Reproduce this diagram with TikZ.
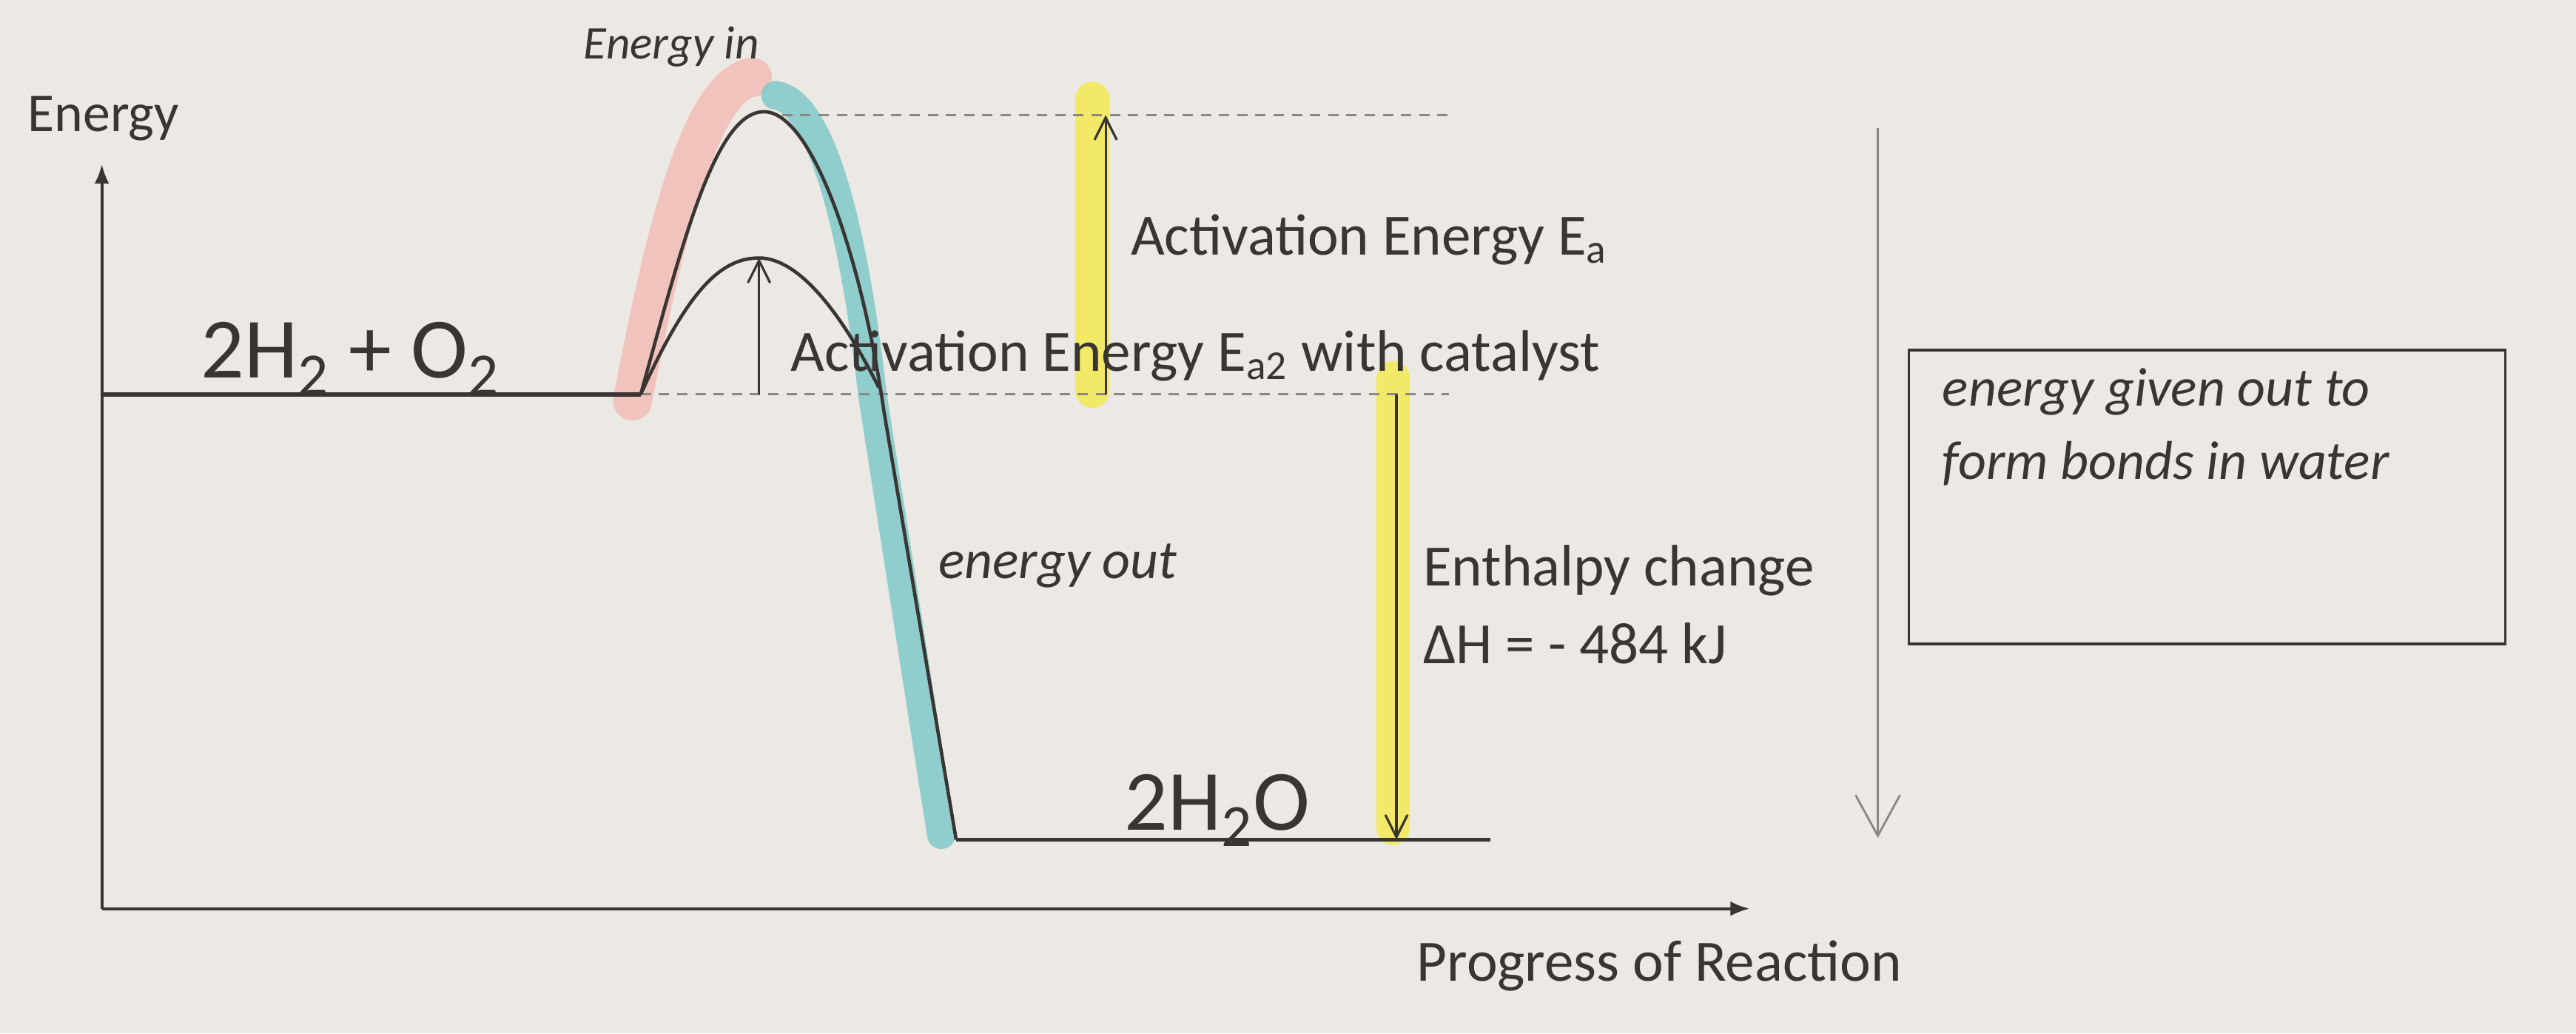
\documentclass[tikz,border=0pt]{standalone}
\usepackage{fontspec}
\setmainfont{Carlito}
\usepackage{xcolor}
\usepackage{tikz}
\usetikzlibrary{arrows.meta,positioning,calc}
\definecolor{PaperBg}{HTML}{ECE9E4}
\definecolor{InkDark}{HTML}{383533}
\definecolor{InkGray}{HTML}{8A8784}
\definecolor{HiYellow}{HTML}{F3EA52}
\definecolor{HiPink}{HTML}{F1BDB5}
\definecolor{HiTeal}{HTML}{80C9C9}
\tikzset{
  axisline/.style={-{Latex[length=2.6mm,width=2mm]},line width=1.1pt,draw=InkDark},
  levelline/.style={line width=1.6pt,draw=InkDark},
  guideline/.style={dash pattern=on 4pt off 3pt,line width=0.8pt,draw=InkGray},
  curveline/.style={line width=1.3pt,draw=InkDark},
  gaparrow/.style={-{Straight Barb[length=3mm,width=3mm]},line width=0.9pt,draw=InkDark},
  sidearrow/.style={-{Straight Barb[length=5.5mm,width=6mm]},line width=0.8pt,draw=InkGray},
  marker/.style={line width=#1,line cap=round,opacity=0.85},
  printlabel/.style={font=\fontsize{22.5}{27}\selectfont,text=InkDark,inner sep=0pt},
  specieslabel/.style={font=\fontsize{33}{38}\selectfont,text=InkDark,inner sep=0pt},
  handlabel/.style={font=\itshape\fontsize{18}{24}\selectfont,text=InkDark,inner sep=0pt,align=left},
  notebox/.style={draw=InkDark,line width=1pt,minimum width=8.06cm,minimum height=3.97cm,inner sep=0pt}
}
\begin{document}
\begin{tikzpicture}[x=0.0222cm,y=-0.0222cm]
\fill[PaperBg] (0,0) rectangle (1568,629);
\useasboundingbox (0,0) rectangle (1568,629);

\coordinate (origin) at (62,553);
\coordinate (ytop) at (62,100);
\coordinate (xend) at (1065,553);
\coordinate (rleft) at (62,240);
\coordinate (rstart) at (390,240);
\coordinate (peak) at (465,68);
\coordinate (catpeak) at (462,157);
\coordinate (catjoin) at (535,236);
\coordinate (steep) at (538,250);
\coordinate (pstart) at (582,511);
\coordinate (pend) at (907,511);
\coordinate (guidestart) at (476,70);
\coordinate (guideend) at (882,240);
\coordinate (topguideend) at (882,70);
\coordinate (eabase) at (673,240);
\coordinate (eatop) at (673,70);
\coordinate (catbase) at (462,240);
\coordinate (dhtop) at (850,240);
\coordinate (dhbot) at (850,511);
\coordinate (bigtop) at (1143,78);
\coordinate (bigbot) at (1143,510);

\draw[marker=15pt,HiPink] (385,244) .. controls (403,150) and (425,52) .. (458,47);
\draw[marker=11pt,HiTeal] (472,58) .. controls (502,62) and (521,150) .. (531,240) -- (573,508);
\draw[marker=13pt,HiYellow] (665,60) -- (665,238);
\draw[marker=13pt,HiYellow] (848,230) -- (848,504);

\draw[axisline] (origin) -- (ytop);
\draw[axisline] (origin) -- (xend);
\draw[guideline] (rstart) -- (guideend);
\draw[guideline] (guidestart) -- (topguideend);
\draw[levelline] (rleft) -- (rstart);
\draw[curveline] (rstart) .. controls (415,150) and (435,68) .. (peak)
  .. controls (495,68) and (525,160) .. (steep) -- (pstart);
\draw[curveline] (rstart) .. controls (418,178) and (438,157) .. (catpeak)
  .. controls (486,157) and (512,190) .. (catjoin);
\draw[levelline] (pstart) -- (pend);
\draw[gaparrow] (catbase) -- (catpeak);
\draw[gaparrow] (eabase) -- (eatop);
\draw[gaparrow] (dhtop) -- (dhbot);
\draw[sidearrow] (bigtop) -- (bigbot);

\node[printlabel,font=\fontsize{21}{25}\selectfont] (ylabel) at (63,72) {Energy};
\node[printlabel] (xlabel) at (1010,588) {Progress of Reaction};
\node[specieslabel,anchor=base west] (reactants) at (122,230) {2H\textsubscript{2} + O\textsubscript{2}};
\node[specieslabel,anchor=base west] (products) at (684,505) {2H\textsubscript{2}O};
\node[printlabel,anchor=base west] (ealabel) at (688,155) {Activation Energy E\textsubscript{a}};
\node[printlabel,anchor=base west] (catlabel) at (481,226) {Activation Energy E\textsubscript{a2} with catalyst};
\node[printlabel,anchor=base west,align=left] (dhlabel) at (866,404) {Enthalpy change\\[3pt]ΔH = - 484 kJ};
\node[handlabel,anchor=base west] (inlabel) at (355,36) {Energy in};
\node[handlabel,font=\itshape\fontsize{21}{26}\selectfont,anchor=base west] (outlabel) at (571,352) {energy out};
\node[notebox] (note) at (1343.5,302.5) {};
\node[handlabel,font=\itshape\fontsize{21}{28}\selectfont,anchor=north west] (notetext) at (1182,224) {energy given out to\\form bonds in water};
\end{tikzpicture}
\end{document}
